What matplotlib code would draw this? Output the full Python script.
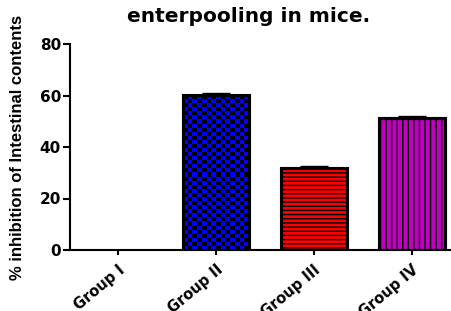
import numpy as np
import matplotlib
matplotlib.use('Agg')
import matplotlib.pyplot as plt
from matplotlib.colors import ListedColormap

# values
groups = ['Group I', 'Group II', 'Group III', 'Group IV']
inhibition = [0, 60.1, 32.0, 51.1]
sem = [0, 0.8, 0.8, 0.8]
bar_colors = ['white', '#0000FF', '#FF0000', '#BF00BF']
bar_hatches = ['', '', '----', '|||']
yticks = [0, 20, 40, 60, 80]

plt.rcParams['hatch.color'] = 'black'
plt.rcParams['hatch.linewidth'] = 1.0

fig = plt.figure(figsize=(4.51, 3.11), dpi=100)
ax = fig.add_axes([70 / 451, 61 / 311, 381 / 451, 206 / 311])

x = np.arange(len(groups))
edge_w = [0 if v == 0 else 2.2 for v in inhibition]

# error bars sit behind the bars, only the caps peek out
ax.errorbar(x, inhibition, yerr=[np.zeros(len(sem)), sem], fmt='none',
            ecolor='black', elinewidth=1.0, capsize=10, capthick=1.0, zorder=1)

bars = ax.bar(x, inhibition, width=0.67, color=bar_colors, hatch=bar_hatches,
              edgecolor='black', linewidth=edge_w, zorder=2)

ax.set_xlim(-0.49, 3.40)
ax.set_ylim(0, 80)

# checkerboard fill for Group II (no matching hatch in matplotlib)
rect = bars[1]
x0, w, h = rect.get_x(), rect.get_width(), rect.get_height()
p0 = ax.transData.transform((x0, 0))
p1 = ax.transData.transform((x0 + w, h))
ncols = int(round((p1[0] - p0[0]) / 4.7))
nrows = int(round((p1[1] - p0[1]) / 4.1))
checker = np.add.outer(np.arange(nrows), np.arange(ncols)) % 2
img = ax.imshow(checker, cmap=ListedColormap(['black', '#0000FF']),
                extent=(x0, x0 + w, 0, h), aspect='auto',
                interpolation='nearest', zorder=2.1)
img.set_clip_path(rect)

# outlines on top again
ax.bar(x, inhibition, width=0.67, fill=False, edgecolor='black',
       linewidth=edge_w, zorder=3)

ax.set_xlim(-0.49, 3.40)
ax.set_ylim(0, 80)

ax.spines['top'].set_visible(False)
ax.spines['right'].set_visible(False)
ax.spines['left'].set_linewidth(1.5)
ax.spines['bottom'].set_linewidth(1.5)

ax.set_yticks(yticks)
ax.set_yticklabels([str(t) for t in yticks], fontfamily='DejaVu Sans',
                   fontweight='bold', fontsize=11)
ax.tick_params(axis='y', length=5, width=1.5, pad=1.5)

ax.set_xticks(x)
ax.set_xticklabels(groups, rotation=40, ha='right', va='top',
                   rotation_mode='anchor', fontfamily='DejaVu Sans',
                   fontweight='bold', fontsize=10.5)
ax.tick_params(axis='x', length=3.6, width=1.5, pad=5)

ax.set_ylabel('% inhibition of Intestinal contents', fontfamily='Liberation Sans',
              fontweight='bold', fontsize=12, va='center')
ax.yaxis.set_label_coords(-0.1365, 0.5)

fig.text(0.552, 0.929, 'enterpooling in mice.', ha='center', va='baseline',
         fontfamily='DejaVu Sans', fontweight='bold', fontsize=14.5)

fig.savefig('out.png', dpi=100)
